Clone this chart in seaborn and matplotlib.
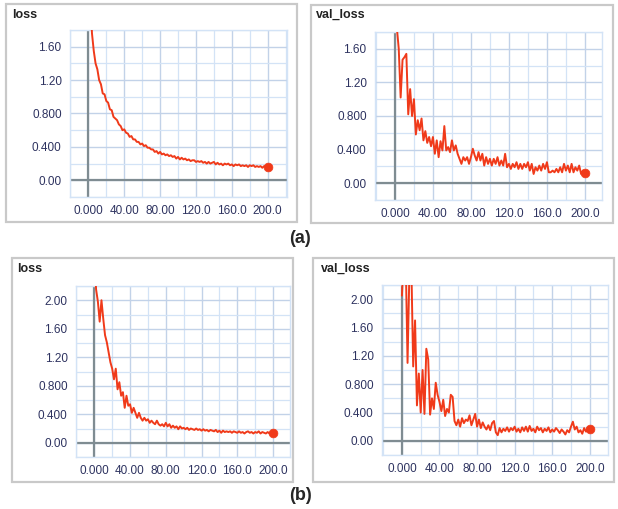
import matplotlib
matplotlib.use("Agg")
import matplotlib.pyplot as plt
from matplotlib.patches import Rectangle
from matplotlib.ticker import MultipleLocator, FixedLocator, FixedFormatter
import seaborn as sns

# epochs shared by every panel (one reading every 2 epochs)
epochs = list(range(0, 201, 2))

loss_a = [2.80, 2.20, 1.76, 1.55, 1.40, 1.33, 1.20, 1.15, 1.04, 1.03, 0.95, 0.93, 0.85, 0.84, 0.76,
          0.74, 0.72, 0.67, 0.65, 0.60, 0.61, 0.57, 0.56, 0.52, 0.53, 0.49, 0.49, 0.46, 0.46, 0.43,
          0.44, 0.41, 0.42, 0.39, 0.39, 0.37, 0.37, 0.34, 0.35, 0.32, 0.34, 0.31, 0.32, 0.30, 0.31,
          0.29, 0.30, 0.28, 0.29, 0.26, 0.28, 0.25, 0.27, 0.25, 0.26, 0.24, 0.25, 0.23, 0.24, 0.24,
          0.22, 0.23, 0.22, 0.23, 0.21, 0.22, 0.20, 0.22, 0.20, 0.21, 0.22, 0.19, 0.21, 0.19, 0.20,
          0.18, 0.20, 0.19, 0.20, 0.18, 0.19, 0.17, 0.19, 0.18, 0.19, 0.17, 0.18, 0.17, 0.18, 0.16,
          0.18, 0.17, 0.18, 0.16, 0.17, 0.16, 0.17, 0.15, 0.17, 0.16, 0.16]

val_loss_a = [2.30, 1.85, 1.60, 1.02, 1.47, 1.50, 1.54, 0.82, 1.12, 0.80, 1.00, 0.58, 0.75, 0.63, 0.77,
              0.51, 0.62, 0.48, 0.55, 0.44, 0.55, 0.35, 0.51, 0.31, 0.50, 0.39, 0.68, 0.39, 0.43, 0.37,
              0.51, 0.39, 0.45, 0.35, 0.29, 0.23, 0.31, 0.27, 0.31, 0.23, 0.31, 0.41, 0.33, 0.27, 0.37,
              0.27, 0.35, 0.21, 0.31, 0.23, 0.29, 0.21, 0.29, 0.23, 0.31, 0.21, 0.27, 0.21, 0.35, 0.19,
              0.23, 0.17, 0.23, 0.19, 0.25, 0.17, 0.23, 0.17, 0.23, 0.19, 0.25, 0.15, 0.23, 0.11, 0.19,
              0.15, 0.21, 0.15, 0.23, 0.17, 0.25, 0.13, 0.13, 0.15, 0.13, 0.17, 0.13, 0.19, 0.13, 0.23,
              0.15, 0.21, 0.13, 0.23, 0.13, 0.19, 0.15, 0.21, 0.11, 0.15, 0.12]

loss_b = [2.60, 2.15, 1.98, 1.70, 2.00, 1.74, 1.51, 1.41, 1.27, 1.13, 1.04, 0.89, 1.04, 0.75, 0.85,
          0.66, 0.71, 0.49, 0.66, 0.52, 0.54, 0.42, 0.49, 0.42, 0.35, 0.42, 0.35, 0.31, 0.35, 0.31,
          0.33, 0.28, 0.31, 0.28, 0.26, 0.31, 0.26, 0.24, 0.26, 0.23, 0.28, 0.23, 0.26, 0.21, 0.24,
          0.21, 0.23, 0.19, 0.23, 0.20, 0.21, 0.19, 0.21, 0.18, 0.20, 0.19, 0.18, 0.20, 0.18, 0.19,
          0.17, 0.19, 0.17, 0.18, 0.16, 0.18, 0.17, 0.16, 0.18, 0.15, 0.17, 0.14, 0.17, 0.15, 0.16,
          0.15, 0.16, 0.14, 0.16, 0.15, 0.14, 0.16, 0.14, 0.15, 0.13, 0.15, 0.16, 0.14, 0.15, 0.13,
          0.15, 0.14, 0.16, 0.13, 0.15, 0.14, 0.13, 0.15, 0.13, 0.14, 0.14]

val_loss_b = [2.05, 2.60, 2.60, 1.10, 2.40, 2.50, 1.05, 1.70, 0.50, 0.95, 0.40, 1.00, 0.38, 1.30, 1.15,
              0.37, 0.60, 0.45, 0.82, 0.65, 0.55, 0.42, 0.58, 0.35, 0.45, 0.40, 0.65, 0.62, 0.28, 0.22,
              0.30, 0.20, 0.32, 0.25, 0.30, 0.28, 0.36, 0.22, 0.30, 0.38, 0.20, 0.30, 0.18, 0.26, 0.20,
              0.16, 0.22, 0.15, 0.25, 0.28, 0.12, 0.08, 0.18, 0.12, 0.17, 0.14, 0.19, 0.13, 0.18, 0.15,
              0.20, 0.13, 0.17, 0.12, 0.19, 0.14, 0.20, 0.13, 0.21, 0.14, 0.17, 0.12, 0.20, 0.15, 0.18,
              0.12, 0.17, 0.14, 0.19, 0.12, 0.16, 0.13, 0.18, 0.15, 0.11, 0.16, 0.13, 0.09, 0.15, 0.12,
              0.20, 0.27, 0.16, 0.20, 0.12, 0.15, 0.10, 0.18, 0.13, 0.19, 0.17]

x_ticks = [0, 40, 80, 120, 160, 200]
x_tick_labels = ["0.000", "40.00", "80.00", "120.0", "160.0", "200.0"]
y_ticks_a = [0.0, 0.4, 0.8, 1.2, 1.6]
y_tick_labels_a = ["0.00", "0.400", "0.800", "1.20", "1.60"]
y_ticks_b = [0.0, 0.4, 0.8, 1.2, 1.6, 2.0]
y_tick_labels_b = ["0.00", "0.400", "0.800", "1.20", "1.60", "2.00"]

LINE = "#f03a1a"
TICK = "#2e3360"

sns.set_style("white")
plt.rcParams["font.family"] = ["Liberation Sans", "DejaVu Sans"]

fig = plt.figure(figsize=(6.18, 5.09), dpi=100)
W, H = 618, 509


def box(x0, y0, x1, y1):
    fig.add_artist(Rectangle((x0 / W, 1 - y1 / H), (x1 - x0) / W, (y1 - y0) / H,
                             transform=fig.transFigure, fill=False,
                             edgecolor="#c9c9c9", linewidth=1.6))


def panel(rect, values, title, title_xy, xlim, ylim, yticks, ylabels):
    x0, y0, x1, y1 = rect
    ax = fig.add_axes([x0 / W, 1 - y1 / H, (x1 - x0) / W, (y1 - y0) / H])
    ax.set_facecolor("white")
    ax.xaxis.set_minor_locator(MultipleLocator(20))
    ax.yaxis.set_minor_locator(MultipleLocator(0.2))
    ax.xaxis.set_major_locator(FixedLocator(x_ticks))
    ax.xaxis.set_major_formatter(FixedFormatter(x_tick_labels))
    ax.yaxis.set_major_locator(FixedLocator(yticks))
    ax.yaxis.set_major_formatter(FixedFormatter(ylabels))
    ax.grid(which="minor", color="#d3e3f6", linewidth=0.9)
    ax.grid(which="major", color="#c2d2e8", linewidth=1.0)
    ax.set_axisbelow(True)
    ax.axhline(0, color="#7f8c92", linewidth=1.6, zorder=2)
    ax.axvline(0, color="#7f8c92", linewidth=1.6, zorder=2)
    sns.lineplot(x=epochs, y=values, ax=ax, color=LINE, linewidth=1.4, zorder=3)
    sns.scatterplot(x=[epochs[-1]], y=[values[-1]], ax=ax, color=LINE, s=40,
                    edgecolor=LINE, zorder=4)
    ax.set_xlim(*xlim)
    ax.set_ylim(*ylim)
    ax.tick_params(which="both", length=0, labelsize=8.5, labelcolor=TICK, pad=6)
    for s in ax.spines.values():
        s.set_color("#d3e3f6")
        s.set_linewidth(1.0)
    ax.set_xlabel("")
    ax.set_ylabel("")
    fig.text(title_xy[0] / W, 1 - title_xy[1] / H, title, fontsize=9,
             fontweight="bold", color="#222222", ha="left", va="center")
    return ax


box(6, 4, 297, 222)
box(311, 5, 613, 223)
box(12, 258, 293, 482)
box(313, 258, 614, 482)

panel((70, 30, 287, 197), loss_a, "loss", (12, 15), (-20.5, 221.5), (-0.2, 1.8),
      y_ticks_a, y_tick_labels_a)
panel((375, 32, 602, 200), val_loss_a, "val_loss", (316, 15), (-21, 218), (-0.2, 1.8),
      y_ticks_a, y_tick_labels_a)
panel((76, 286, 290, 457), loss_b, "loss", (17, 269), (-20.5, 219), (-0.2, 2.2),
      y_ticks_b, y_tick_labels_b)
panel((382, 285, 608, 455), val_loss_b, "val_loss", (321, 269), (-21.2, 219.4), (-0.2, 2.2),
      y_ticks_b, y_tick_labels_b)

fig.text(300 / W, 1 - 238 / H, "(a)", fontsize=13, fontweight="bold", ha="center", va="center")
fig.text(300 / W, 1 - 496 / H, "(b)", fontsize=13, fontweight="bold", ha="center", va="center")

fig.savefig("out.png", dpi=100, facecolor="white")
